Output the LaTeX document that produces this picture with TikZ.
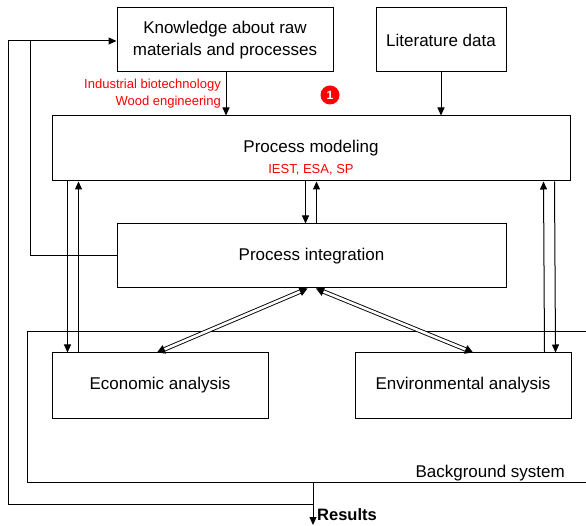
\documentclass[tikz,border=0pt]{standalone}
\usepackage{fontspec}
\setmainfont{Liberation Sans}
\usetikzlibrary{arrows.meta}
\tikzset{
  box/.style={draw, line width=1pt, inner sep=0pt, align=center, font=\fontsize{17}{22}\selectfont},
  arr/.style={line width=1pt, -{Triangle[length=8pt,width=7pt]}},
  line/.style={line width=1pt},
  dbl/.style={line width=0.9pt, double, double distance=2.6pt, {Triangle[length=8pt,width=9pt]}-{Triangle[length=8pt,width=9pt]}},
  redtxt/.style={text=red, inner sep=0pt, font=\fontsize{13}{15}\selectfont},
}
\begin{document}
\begin{tikzpicture}[x=1pt,y=-1pt]
\useasboundingbox (0,0) rectangle (586,526);
% background system
\draw[line] (590,332) -- (27,332) -- (27,482) -- (590,482);
\node[inner sep=0pt, anchor=base east, font=\fontsize{17}{20}\selectfont] (bglabel) at (565,477) {Background system};
% boxes
\node[box, minimum width=216pt, minimum height=64pt] (know) at (225,40) {Knowledge about raw\\materials and processes};
\node[box, minimum width=130pt, minimum height=64pt] (lit) at (441,40) {Literature data};
\node[box, minimum width=518pt, minimum height=65pt] (model) at (311,148.5) {Process modeling};
\node[redtxt] (iest) at (311,170) {IEST, ESA, SP};
\node[box, minimum width=389pt, minimum height=64pt] (integ) at (311.5,256) {Process integration};
\node[box, fill=white, minimum width=216pt, minimum height=65pt] (econ) at (160,385.5) {Economic analysis};
\node[box, fill=white, minimum width=216pt, minimum height=65pt] (env) at (463,385.5) {Environmental analysis};
% red labels
\node[redtxt, anchor=east] (ib) at (221,85) {Industrial biotechnology};
\node[redtxt, anchor=east] (we) at (221,102) {Wood engineering};
\node[circle, fill=red, minimum size=19pt, inner sep=0pt, text=white, font=\bfseries\fontsize{12}{12}\selectfont] (one) at (330,95) {1};
% arrows into modeling
\draw[arr] ([xshift=1pt]know.south) -- ([xshift=1pt]know.south |- model.north);
\draw[arr] (lit.south) -- (lit.south |- model.north);
% modeling <-> integration
\draw[arr] ([xshift=-5.5pt]model.south) -- ([xshift=-5.5pt]model.south |- integ.north);
\draw[arr] ([xshift=5.5pt]model.south |- integ.north) -- ([xshift=5.5pt]model.south);
% modeling <-> economic
\draw[arr] ([xshift=16pt]model.south west) -- ([xshift=16pt]econ.north west);
\draw[arr] ([xshift=27pt]econ.north west) -- ([xshift=27pt]model.south west);
% modeling <-> environmental
\draw[arr] ([xshift=-27pt]env.north east) -- ([xshift=-27pt]model.south east);
\draw[arr] ([xshift=-16pt]model.south east) -- ([xshift=-16pt]env.north east);
% integration <-> analyses
\draw[dbl] ([xshift=-4pt]integ.south) -- ([xshift=-3pt]econ.north);
\draw[dbl] ([xshift=4.5pt]integ.south) -- ([xshift=10pt]env.north);
% results
\coordinate (bgbot) at (313,482);
\coordinate (resend) at (313,525);
\coordinate (loopA) at (313,504);
\draw[arr] (bgbot) -- (resend);
\node[inner sep=0pt, anchor=base west, font=\bfseries\fontsize{16.5}{18}\selectfont] (res) at (317,520) {Results};
\coordinate (c1) at (8,504);
\coordinate (c2) at (8,41);
\coordinate (c3) at (30,41);
\draw[arr] (loopA) -- (c1) -- (c2) -- (know.west |- c2);
\draw[line] (integ.west) -- (integ.west -| c3) -- (c3);
\end{tikzpicture}
\end{document}
